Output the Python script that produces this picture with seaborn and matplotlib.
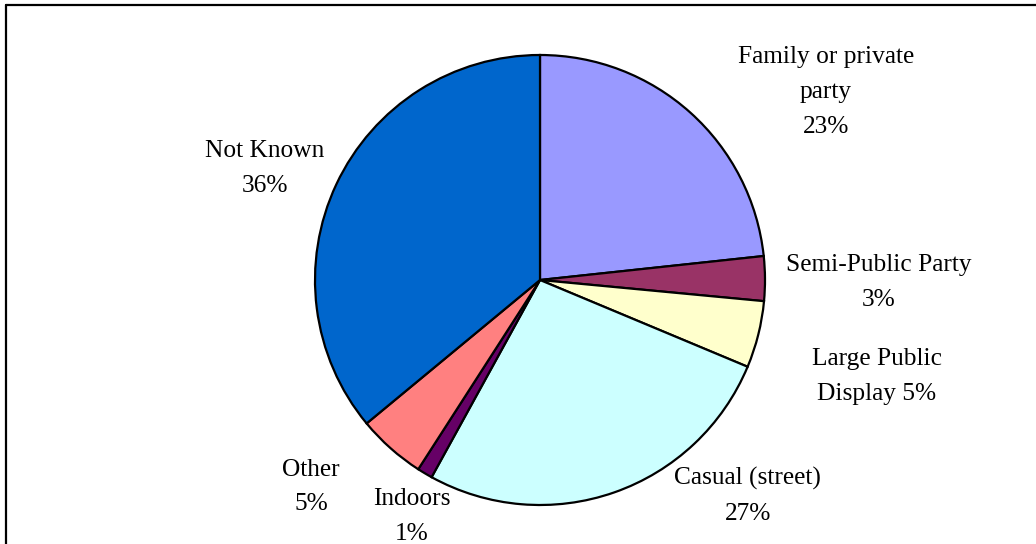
import matplotlib
matplotlib.use("Agg")
import matplotlib.pyplot as plt
import seaborn as sns
from matplotlib.lines import Line2D

# data
categories = ["Family or private party", "Semi-Public Party", "Large Public Display",
              "Casual (street)", "Indoors", "Other", "Not Known"]
shares = [23.3, 3.2, 4.8, 26.7, 1.1, 4.9, 36.0]
label_fmt = ["Family or private\nparty\n{}%", "Semi-Public Party\n{}%", "Large Public\nDisplay {}%",
             "Casual (street)\n{}%", "Indoors\n{}%", "Other\n{}%", "Not Known\n{}%"]
colors = ["#9999FF", "#993366", "#FFFFCC", "#CCFFFF", "#660066", "#FF8080", "#0066CC"]

# label positions in pie data units (radius = 1)
label_pos = [(1.271, 0.835), (1.507, -0.01), (1.498, -0.43), (0.924, -0.96),
             (-0.569, -1.052), (-1.018, -0.92), (-1.222, 0.494)]

sns.set_theme(style="white")
plt.rcParams["font.family"] = ["Liberation Serif", "DejaVu Serif"]

W, H = 1036, 544
fig = plt.figure(figsize=(W / 100, H / 100), dpi=100)
cx, cy, r = 540, 280, 225
ax = fig.add_axes([(cx - r) / W, (H - cy - r) / H, 2 * r / W, 2 * r / H])

ax.pie(shares, colors=sns.color_palette(colors), startangle=90, counterclock=False,
       radius=1, wedgeprops=dict(edgecolor="black", linewidth=1.6))
ax.set_xlim(-1, 1)
ax.set_ylim(-1, 1)
ax.set_aspect("equal")
ax.axis("off")

total = sum(shares)
for fmt, v, (x, y) in zip(label_fmt, shares, label_pos):
    ax.text(x, y, fmt.format(round(v / total * 100)), ha="center", va="center",
            fontsize=18.3, color="black", linespacing=1.76, clip_on=False)

# chart frame (only top and left edges visible in the crop)
fig.add_artist(Line2D([5.5 / W, 5.5 / W], [0, 1 - 4.5 / H], transform=fig.transFigure,
                      color="black", linewidth=1.6))
fig.add_artist(Line2D([5.5 / W, 1], [1 - 4.5 / H, 1 - 4.5 / H], transform=fig.transFigure,
                      color="black", linewidth=1.6))

fig.savefig("out.png", dpi=100)
plt.close(fig)
